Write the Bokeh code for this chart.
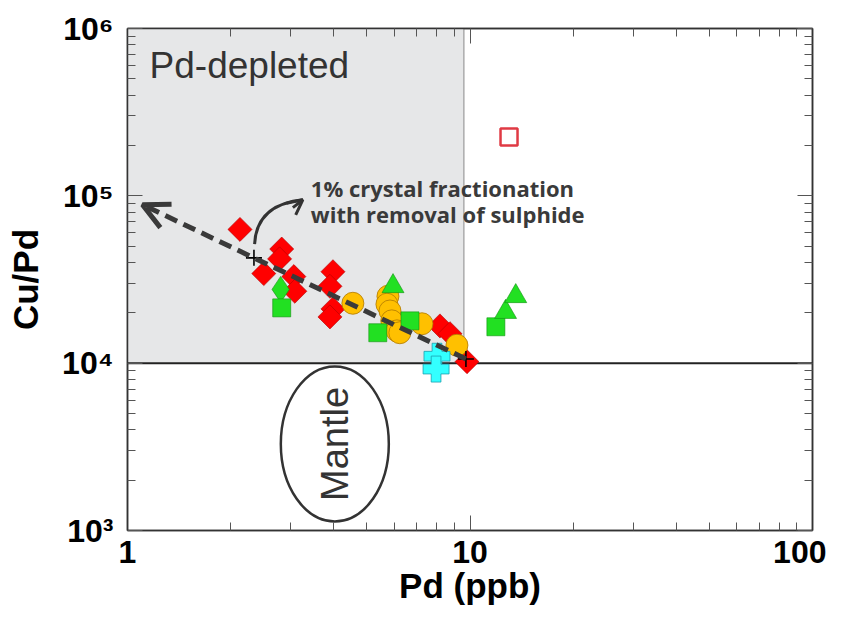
import math
from bokeh.plotting import figure
from bokeh.models import LogAxis, FixedTicker, Arrow, OpenHead
from bokeh.core.properties import value
from bokeh.embed import file_html
from bokeh.resources import INLINE

# ---------------- data ----------------
red_pd = [2.13, 2.82, 2.78, 2.50, 3.06, 3.08, 3.98, 3.90, 3.98, 3.90, 8.17, 8.74, 9.8]
red_cupd = [63000, 48100, 42000, 34300, 32900, 26900, 35200, 28800, 21100, 18900, 16700, 15000, 10200]

yel_pd = [4.55, 5.76, 5.72, 5.84, 5.91, 6.12, 6.24, 7.24, 9.16]
yel_cupd = [22800, 25100, 22500, 20500, 17900, 15600, 15200, 17200, 12800]

gsq_pd = [2.82, 5.38, 6.68, 11.9]
gsq_cupd = [21400, 15200, 17900, 16500]

gtri_pd = [5.96, 12.7, 13.6]
gtri_cupd = [28800, 20200, 25100]

gdia_pd = [2.80]
gdia_cupd = [27600]

cyan_pd = [8.01, 7.96]
cyan_cupd = [11000, 9220]

open_pd = [13.0]
open_cupd = [225000]

# fractionation trend (dashed arrow) : start, end; crosses on the trend
trend_pd = [9.73, 1.106]
trend_cupd = [10600, 88500]
cross_pd = [2.34, 9.73]
cross_cupd = [42600, 10600]

# curved annotation arrow: start, control, end, head start
curve_pd = [2.35, 2.38, 3.25, 3.04]
curve_cupd = [51500, 88500, 94700, 85000]

note_lines = ["1% crystal fractionation", "with removal of sulphide"]
note_pd = [3.43, 3.43]
note_cupd = [111000, 78300]

depleted_pd_max = 9.6
depleted_cupd_min = 1e4
depleted_cupd_max = 1e6
x_min, x_max = 1, 100
y_min, y_max = 1e3, 1e6

mantle_pd = [4.03]
mantle_cupd = [3290]

x_ticks = [1, 10, 100]
x_minor = [2, 3, 4, 5, 6, 7, 8, 9, 20, 30, 40, 50, 60, 70, 80, 90]
x_labels = {1: "1", 10: "10", 100: "100"}
y_ticks = [1e3, 1e4, 1e5, 1e6]
y_minor = [m * 10 ** e for e in (3, 4, 5) for m in range(2, 10)]
y_labels = {1000: "10³", 10000: "10⁴", 100000: "10⁵", 1000000: "10⁶"}

# ---------------- figure ----------------
BOLD_FONT = "Liberation Sans"
p = figure(width=826, height=627, x_axis_type="log", y_axis_type="log",
           x_range=(x_min, x_max), y_range=(y_min, y_max),
           output_backend="svg", toolbar_location=None,
           min_border_left=127, min_border_right=14, min_border_top=28, min_border_bottom=97)
p.grid.visible = False
p.outline_line_color = "#333333"
p.outline_line_width = 1.5
p.background_fill_color = "white"


def style_axis(ax, ticks, minor, labels, show_labels):
    ax.ticker = FixedTicker(ticks=ticks, minor_ticks=minor)
    ax.major_tick_in = 15
    ax.major_tick_out = 0
    ax.minor_tick_in = 8
    ax.minor_tick_out = 0
    ax.major_tick_line_color = "#555555"
    ax.minor_tick_line_color = "#555555"
    ax.axis_line_color = "#333333"
    ax.axis_line_width = 1.5
    if show_labels:
        ax.major_label_overrides = labels
        ax.major_label_text_font = BOLD_FONT
        ax.major_label_text_font_style = "bold"
        ax.major_label_text_font_size = "32px"
        ax.major_label_text_color = "black"
    else:
        ax.major_label_text_font_size = "1px"
        ax.major_label_text_color = None
        ax.major_label_standoff = 0


xa = p.xaxis[0]
ya = p.yaxis[0]
style_axis(xa, x_ticks, x_minor, x_labels, True)
style_axis(ya, y_ticks, y_minor, y_labels, True)
xa.major_label_standoff = 10
ya.major_label_standoff = 14
xa.axis_label = "Pd (ppb)"
ya.axis_label = "Cu/Pd"
for ax in (xa, ya):
    ax.axis_label_text_font = BOLD_FONT
    ax.axis_label_text_font_style = "bold"
    ax.axis_label_text_font_size = "35px"
    ax.axis_label_text_color = "black"
xa.axis_label_standoff = 0
ya.axis_label_standoff = 14

top = LogAxis()
style_axis(top, x_ticks, x_minor, x_labels, False)
p.add_layout(top, "above")
right = LogAxis()
style_axis(right, y_ticks, y_minor, y_labels, False)
p.add_layout(right, "right")

# Pd-depleted field
p.quad(left=[x_min], right=[depleted_pd_max], bottom=[depleted_cupd_min], top=[depleted_cupd_max],
       fill_color="#e6e7e8", line_color=None)
p.segment(x0=[depleted_pd_max], x1=[depleted_pd_max], y0=[depleted_cupd_min], y1=[depleted_cupd_max],
          line_color="#8a8a8a", line_width=1)
p.segment(x0=[x_min], x1=[x_max], y0=[depleted_cupd_min], y1=[depleted_cupd_min],
          line_color="#222222", line_width=2)

p.text(x=[1.16], y=[597000], text=["Pd-depleted"], text_font=value("Liberation Sans"),
       text_font_size="37px", text_color="#333333", text_baseline="middle", text_align="left")

# Mantle ellipse
p.ellipse(x=mantle_pd, y=mantle_cupd, width=108, height=155, width_units="screen",
          height_units="screen", fill_color="white", line_color="#333333", line_width=2.5)
p.text(x=mantle_pd, y=mantle_cupd, text=["Mantle"], angle=math.pi / 2,
       text_font=value("Liberation Sans"), text_font_size="38px", text_color="#333333",
       text_align="center", text_baseline="middle")

# data points
p.scatter(red_pd, red_cupd, marker="square", angle=math.pi / 4, size=17,
          fill_color="#ff0000", line_color="#b00000", line_width=0.6)
p.scatter(gdia_pd, gdia_cupd, marker="diamond", size=26,
          fill_color="#22e022", line_color="#129012", line_width=0.6)
p.scatter(yel_pd, yel_cupd, marker="circle", size=22,
          fill_color="#ffc000", line_color="#b07800", line_width=0.8)
p.scatter(gsq_pd, gsq_cupd, marker="square", size=18,
          fill_color="#22e022", line_color="#129012", line_width=0.6)
p.scatter(gtri_pd, gtri_cupd, marker="triangle", size=22,
          fill_color="#22e022", line_color="#129012", line_width=0.6)
p.scatter(cyan_pd, cyan_cupd, marker="plus", size=26,
          fill_color="#33ffff", line_color="#1a9fb0", line_width=0.8)
p.scatter(open_pd, open_cupd, marker="square", size=17,
          fill_color=None, line_color="#e03a44", line_width=2.5)

# fractionation trend
p.add_layout(Arrow(x_start=trend_pd[0], y_start=trend_cupd[0], x_end=trend_pd[1], y_end=trend_cupd[1],
                   line_color="#3a3a3a", line_width=5, line_dash="13 7",
                   end=OpenHead(size=26, line_width=5, line_color="#3a3a3a")))
p.scatter(cross_pd, cross_cupd, marker="cross", size=16, line_color="black", line_width=1.6)

# curved arrow
p.quadratic(x0=[curve_pd[0]], y0=[curve_cupd[0]], cx=[curve_pd[1]], cy=[curve_cupd[1]],
            x1=[curve_pd[2]], y1=[curve_cupd[2]], line_color="#333333", line_width=3)
p.add_layout(Arrow(x_start=curve_pd[3], y_start=curve_cupd[3], x_end=curve_pd[2], y_end=curve_cupd[2],
                   line_color="#333333", line_width=3,
                   end=OpenHead(size=15, line_width=3, line_color="#333333")))

p.text(x=note_pd, y=note_cupd, text=note_lines, text_font=value("Open Sans"),
       text_font_style="bold", text_font_size="22px", text_color="#3a3a3a",
       text_align="left", text_baseline="middle")

open("out.html", "w").write(file_html(p, INLINE))
